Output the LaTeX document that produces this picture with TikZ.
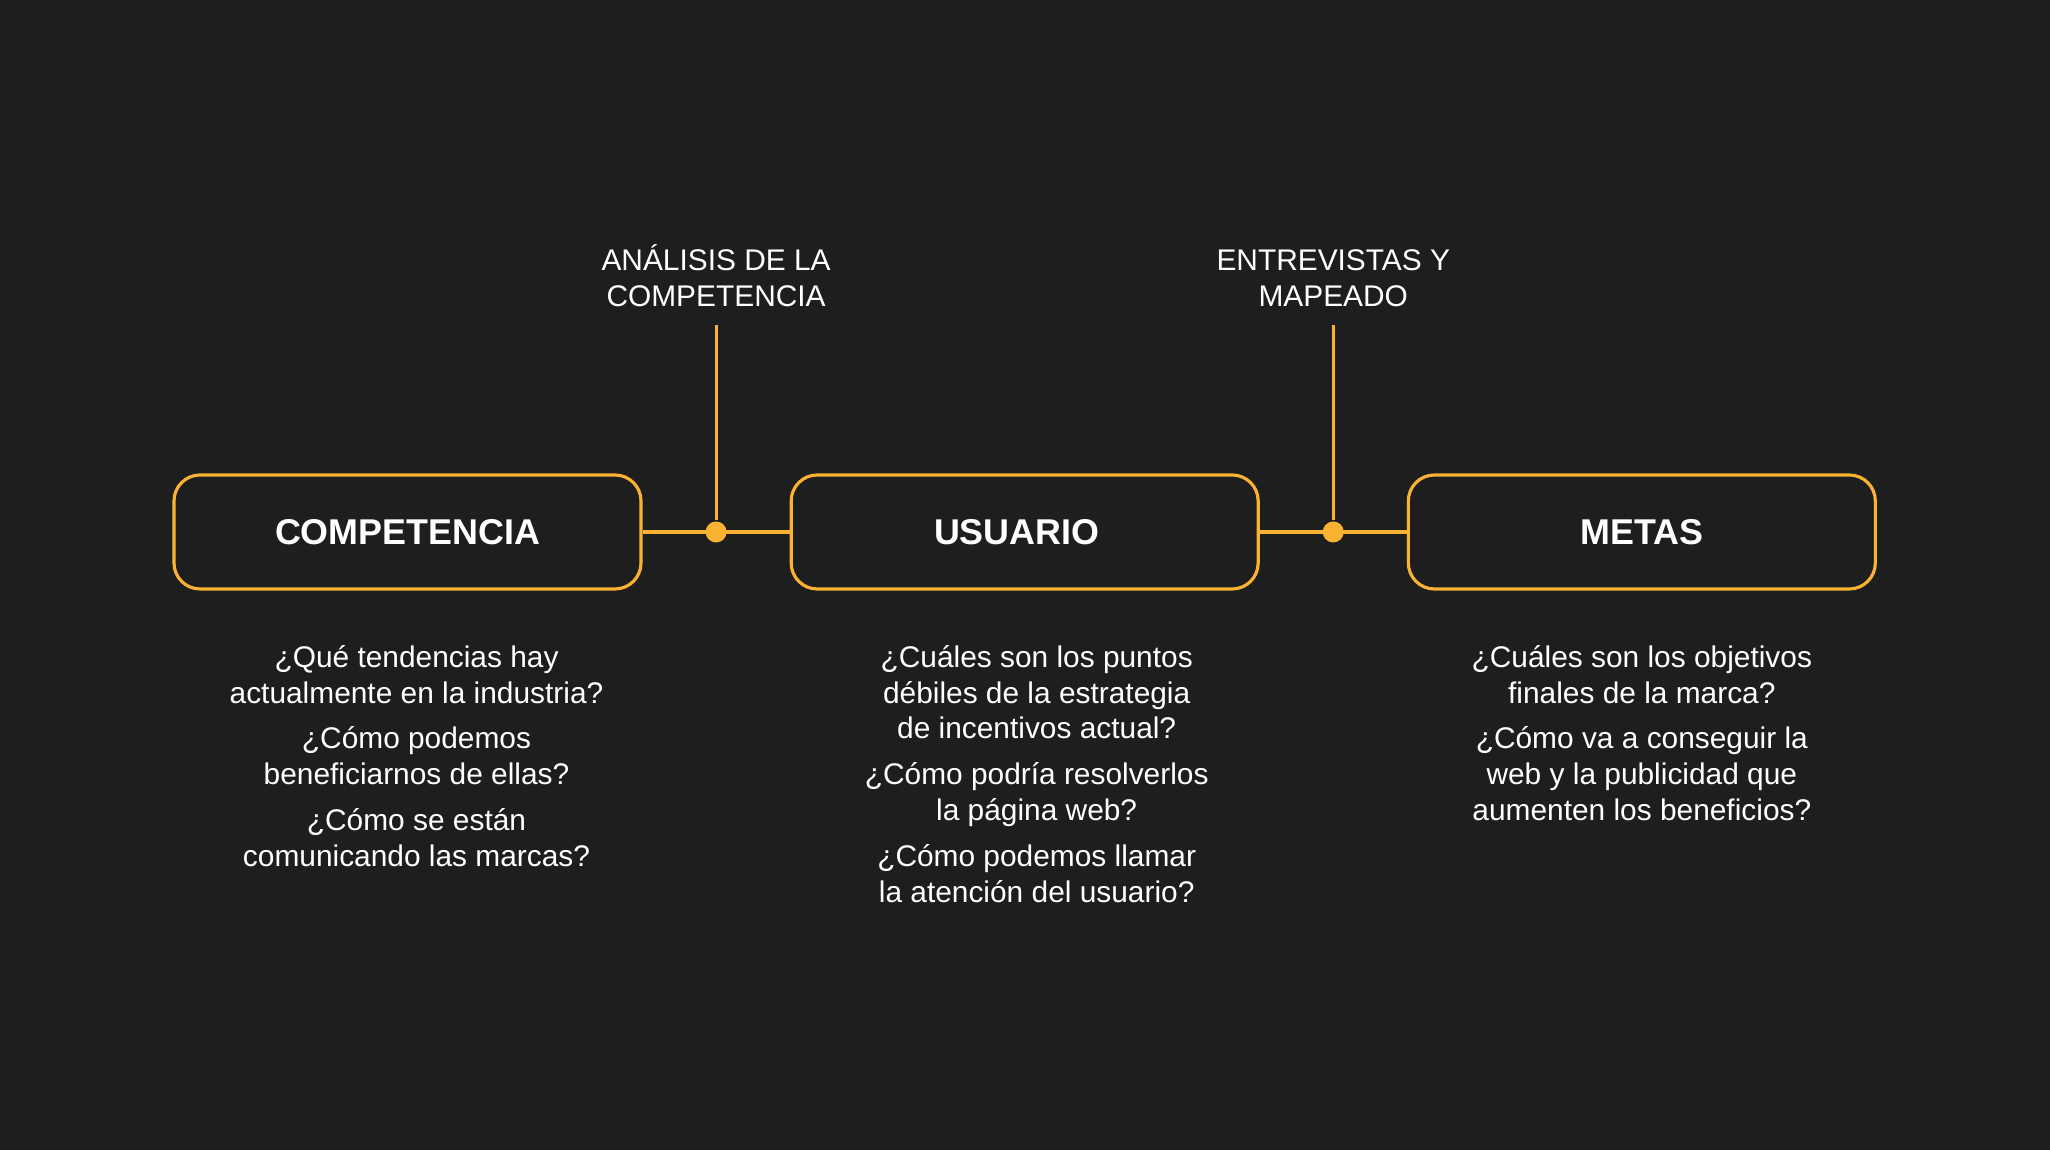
\documentclass[tikz,border=0pt]{standalone}
\usepackage{fontspec}
\setmainfont{Liberation Sans}
\usetikzlibrary{positioning,calc}
\definecolor{bgcolor}{RGB}{30,30,30}
\definecolor{accentcolor}{RGB}{250,178,50}

\begin{document}
\begin{tikzpicture}[
	node distance=1.47cm,
	block/.style={
		rectangle,
		draw=accentcolor,
		line width=0.9pt,
		rounded corners=0.26cm,
		minimum width=4.67cm,
		minimum height=1.14cm,
		text=white,
		font=\fontsize{10.2}{12}\selectfont\bfseries
	},
	line/.style={
		draw=accentcolor,
		line width=0.9pt
	},
	hub/.style={
		circle,
		fill=accentcolor,
		minimum size=0.21cm,
		inner sep=0pt
	},
	tag/.style={
		text=white,
		align=center,
		inner sep=5pt,
		font=\fontsize{8.5}{10.2}\selectfont
	},
	quest/.style={
		text=white,
		align=center,
		inner sep=0pt,
		font=\fontsize{8.5}{10.2}\selectfont
	}
	]
	
	% Background
	\fill[bgcolor] (0,0) rectangle (20.5,11.5);
	
	% Main Blocks
	\node[block] (comp) at (4.075,6.18) {COMPETENCIA};
	\node[block,right=of comp] (usr) {\hspace*{-0.16cm}USUARIO};
	\node[block,right=of usr] (meta) {METAS};
	
	% Connection Lines
	\draw[line] (comp) -- node[hub] (hub1) {} (usr);
	\draw[line] (usr) -- node[hub] (hub2) {} (meta);
	
	% Upper Labels
	\node[tag,above=1.95cm of hub1] (analisis) {ANÁLISIS DE LA\\COMPETENCIA};
	\draw[line] (analisis) -- (hub1);
	\node[tag,above=1.95cm of hub2] (entrev) {ENTREVISTAS Y\\MAPEADO};
	\draw[line] (entrev) -- (hub2);
	
	% Questions
	\node[quest,below=0.54cm of comp,xshift=0.09cm] (comp-q) {¿Qué tendencias hay\\actualmente en la industria?\\[2.8pt]
		¿Cómo podemos\\beneficiarnos de ellas?\\[2.8pt]
		¿Cómo se están\\comunicando las marcas?};
	\node[quest,below=0.54cm of usr,xshift=0.12cm] (usr-q) {¿Cuáles son los puntos\\débiles de la estrategia\\de incentivos actual?\\[2.8pt]
		¿Cómo podría resolverlos\\la página web?\\[2.8pt]
		¿Cómo podemos llamar\\la atención del usuario?};
	\node[quest,below=0.54cm of meta] (meta-q) {¿Cuáles son los objetivos\\finales de la marca?\\[2.8pt]
		¿Cómo va a conseguir la\\web y la publicidad que\\aumenten los beneficios?};
	
\end{tikzpicture}
\end{document}
